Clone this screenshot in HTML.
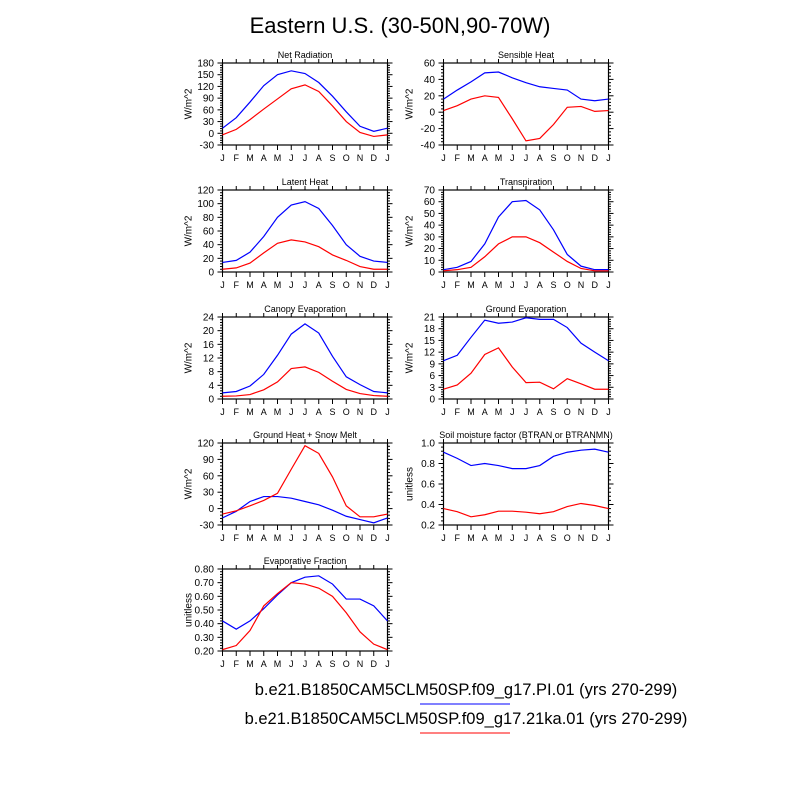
<!DOCTYPE html>
<html><head><meta charset="utf-8"><style>
body{margin:0;background:#fff;}
svg text{font-family:"Liberation Sans",sans-serif;fill:#000;}
</style></head><body>
<svg id="chart" width="800" height="800" xmlns="http://www.w3.org/2000/svg">
<text x="400" y="33" font-size="22" text-anchor="middle">Eastern U.S. (30-50N,90-70W)</text>
<text x="466" y="695" font-size="16.5" text-anchor="middle">b.e21.B1850CAM5CLM50SP.f09_g17.PI.01 (yrs 270-299)</text>
<line x1="420" y1="704" x2="510" y2="704" stroke="#00f" stroke-width="1"/>
<text x="466" y="724" font-size="16.5" text-anchor="middle">b.e21.B1850CAM5CLM50SP.f09_g17.21ka.01 (yrs 270-299)</text>
<line x1="420" y1="733" x2="510" y2="733" stroke="#f00" stroke-width="1"/>
</svg>
<script>
const months = ["J","F","M","A","M","J","J","A","S","O","N","D","J"];
const titles = ["Net Radiation","Sensible Heat","Latent Heat","Transpiration","Canopy Evaporation","Ground Evaporation","Ground Heat + Snow Melt","Soil moisture factor (BTRAN or BTRANMN)","Evaporative Fraction"];
const yTitles = ["W/m^2","W/m^2","W/m^2","W/m^2","W/m^2","W/m^2","W/m^2","unitless","unitless"];
const yMins = [-30,-40,0,0,0,0,-30,0.2,0.2];
const yMaxs = [180,60,120,70,24,21,120,1.0,0.8];
const ySteps = [30,20,20,10,4,3,30,0.2,0.1];
const yDecimals = [0,0,0,0,0,0,0,1,2];
const bluePI = [
 [13,40,80,122,150,160,153,130,95,55,18,5,13],
 [16,27,37,48,49,42,36,31,29,27,16,14,16],
 [14,17,29,52,80,98,103,93,68,40,23,16,14],
 [2,4,9,24,47,60,61,53,36,15,5,2,2],
 [1.8,2.2,3.8,7.2,12.8,19,22,19.3,12.5,6.5,4.2,2.2,1.8],
 [9.8,11.2,15.8,20.2,19.4,19.7,20.8,20.4,20.4,18.3,14.3,12,9.8],
 [-17,-5,13,22,22,19,13,7,-3,-14,-20,-26,-17],
 [0.91,0.85,0.78,0.80,0.78,0.75,0.75,0.78,0.87,0.91,0.93,0.94,0.91],
 [0.42,0.36,0.42,0.51,0.61,0.70,0.74,0.75,0.69,0.58,0.58,0.53,0.42]
];
const red21ka = [
 [-4,10,35,62,88,114,124,107,70,30,2,-8,-4],
 [2,8,16,20,18,-8,-35,-32,-15,6,7,1,2],
 [4,6,13,28,42,47,44,37,25,17,8,4,4],
 [1,2,4,13,24,30,30,25,17,9,3,1,1],
 [0.8,0.9,1.3,2.7,5,8.9,9.4,7.8,5.2,2.8,1.6,1,0.8],
 [2.5,3.6,6.6,11.4,13.1,8.2,4.2,4.3,2.6,5.2,3.9,2.5,2.5],
 [-10,-4,5,15,28,72,115,101,58,5,-15,-15,-10],
 [0.36,0.33,0.28,0.30,0.335,0.335,0.325,0.31,0.33,0.38,0.41,0.39,0.36],
 [0.21,0.24,0.35,0.53,0.62,0.70,0.69,0.66,0.60,0.48,0.34,0.25,0.21]
];

const NS="http://www.w3.org/2000/svg";
const svg=document.getElementById("chart");
function mk(tag,attrs,parent){const e=document.createElementNS(NS,tag);for(const k in attrs)e.setAttribute(k,attrs[k]);(parent||svg).appendChild(e);return e;}
const colX=[222.5,443.5], rowY=[63,190,317,443,569], W=165, H=82;

titles.forEach((t,i)=>{
  const x0=colX[i%2], y0=rowY[Math.floor(i/2)];
  const g=mk("g",{});
  
  
  const xs=k=>x0+k*W/12;
  const ys=v=>y0+H-(v-yMins[i])/(yMaxs[i]-yMins[i])*H;
  const tt=mk("text",{x:x0+W/2,y:y0-5,"font-size":9,"text-anchor":"middle"},g);tt.textContent=t;
  
  
  const yt=mk("text",{x:0,y:0,"font-size":10,"text-anchor":"middle",transform:`translate(${x0-31},${y0+H/2}) rotate(-90)`},g);yt.textContent=yTitles[i];
  
  
  months.forEach((m,k)=>{
    const x=xs(k);
    mk("line",{x1:x,y1:y0+H,x2:x,y2:y0+H+5,stroke:"#000","stroke-width":1},g);
    mk("line",{x1:x,y1:y0,x2:x,y2:y0-4,stroke:"#000","stroke-width":1},g);
    const l=mk("text",{x:x,y:y0+H+16,"font-size":9,"text-anchor":"middle"},g);l.textContent=m;
    
    
  });
  const n=Math.round((yMaxs[i]-yMins[i])/ySteps[i]);
  for(let j=0;j<=n;j++){
    const v=yMins[i]+j*ySteps[i], y=ys(v);
    mk("line",{x1:x0-5,y1:y,x2:x0,y2:y,stroke:"#000"},g);
    mk("line",{x1:x0+W,y1:y,x2:x0+W+5,y2:y,stroke:"#000"},g);
    const l=mk("text",{x:x0-8.5,y:y+3.5,"font-size":10,"text-anchor":"end"},g);l.textContent=v.toFixed(yDecimals[i]);
    
    
    if(j<n){for(let q=1;q<5;q++){const ym=ys(v+q*ySteps[i]/5);
      mk("line",{x1:x0-2.5,y1:ym,x2:x0,y2:ym,stroke:"#000"},g);
      mk("line",{x1:x0+W,y1:ym,x2:x0+W+2.5,y2:ym,stroke:"#000"},g);}}
  }
  const fr=mk("rect",{x:x0,y:y0,width:W,height:H,fill:"none",stroke:"#000","stroke-width":1.2},g);
  
  
  [[bluePI[i],"#00f","pi"],[red21ka[i],"#f00","21ka"]].forEach(([d,c,nm])=>{
    const p=mk("polyline",{points:d.map((v,k)=>xs(k)+","+ys(v)).join(" "),fill:"none",stroke:c,"stroke-width":1.2},g);
    
    
  });
});
</script>
</body></html>
